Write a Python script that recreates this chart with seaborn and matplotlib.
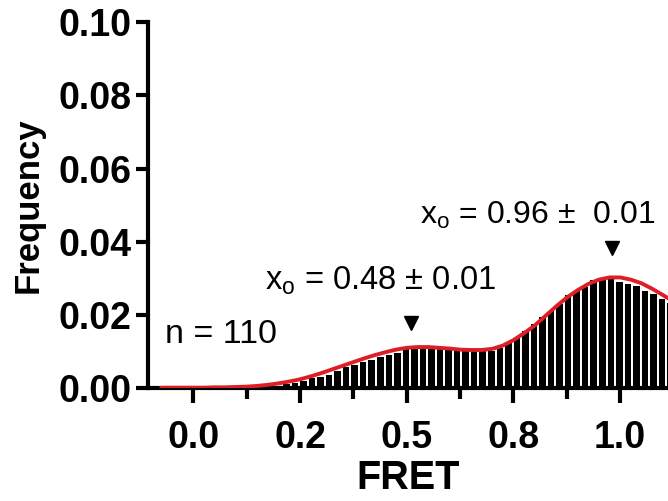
import numpy as np
import pandas as pd
import matplotlib
matplotlib.use("Agg")
import matplotlib.pyplot as plt
import seaborn as sns

# Histogram of FRET values (bin centres, 0.02 wide) and their frequencies
bin_centers = [0.138, 0.158, 0.178, 0.198, 0.218, 0.238, 0.258, 0.278, 0.298,
               0.318, 0.338, 0.358, 0.378, 0.398, 0.418, 0.438, 0.458, 0.478,
               0.498, 0.518, 0.538, 0.558, 0.578, 0.598, 0.618, 0.638, 0.658,
               0.678, 0.698, 0.718, 0.738, 0.758, 0.778, 0.798, 0.818, 0.838,
               0.858, 0.878, 0.898, 0.918, 0.938, 0.958, 0.978, 0.998, 1.018,
               1.038, 1.058, 1.078, 1.098, 1.118]
bin_freq = [0.0002, 0.0003, 0.0006, 0.0010, 0.0016, 0.0019, 0.0024, 0.0030, 0.0034,
            0.0040, 0.0050, 0.0060, 0.0066, 0.0074, 0.0080, 0.0088, 0.0095, 0.0100,
            0.0116, 0.0115, 0.0112, 0.0112, 0.0110, 0.0107, 0.0106, 0.0105, 0.0105,
            0.0104, 0.0106, 0.0114, 0.0128, 0.0140, 0.0160, 0.0180, 0.0199, 0.0214,
            0.0232, 0.0258, 0.0268, 0.0280, 0.0300, 0.0305, 0.0305, 0.0292, 0.0288,
            0.0282, 0.0270, 0.0260, 0.0247, 0.0235]

# Two-state Gaussian fit, sampled every 0.025
fit_x = [-0.075, -0.05, -0.025, 0.0, 0.025, 0.05, 0.075, 0.1, 0.125, 0.15, 0.175,
         0.2, 0.225, 0.25, 0.275, 0.3, 0.325, 0.35, 0.375, 0.4, 0.425, 0.45, 0.475,
         0.5, 0.525, 0.55, 0.575, 0.6, 0.625, 0.65, 0.675, 0.7, 0.725, 0.75, 0.775,
         0.8, 0.825, 0.85, 0.875, 0.9, 0.925, 0.95, 0.975, 1.0, 1.025, 1.05, 1.075,
         1.1, 1.125]
fit_y = [0.0002, 0.0002, 0.0002, 0.0002, 0.0002, 0.0003, 0.0003, 0.0004, 0.0005,
         0.0007, 0.0010, 0.0014, 0.0019, 0.0025, 0.0033, 0.0042, 0.0052, 0.0062,
         0.0072, 0.0082, 0.0091, 0.0099, 0.0106, 0.0111, 0.0113, 0.0113, 0.0111,
         0.0109, 0.0106, 0.0105, 0.0105, 0.0108, 0.0117, 0.0132, 0.0151, 0.0172,
         0.0198, 0.0224, 0.0248, 0.0268, 0.0285, 0.0297, 0.0303, 0.0303, 0.0297,
         0.0287, 0.0272, 0.0255, 0.0237]

# Fitted peak centres and their errors
peak_x0 = [0.48, 0.96]
peak_err = [0.01, 0.01]
arrow_x = [0.51, 0.98]
arrow_y = [0.0179, 0.0383]
n_molecules = 110

x_major = [0.0, 0.25, 0.5, 0.75, 1.0]
x_major_labels = ["0.0", "0.2", "0.5", "0.8", "1.0"]
x_minor = [0.125, 0.375, 0.625, 0.875]
y_ticks = [0.00, 0.02, 0.04, 0.06, 0.08, 0.10]
y_tick_labels = ["0.00", "0.02", "0.04", "0.06", "0.08", "0.10"]

sns.set_style("ticks")
plt.rcParams["font.family"] = ["Liberation Sans", "DejaVu Sans"]
plt.rcParams["mathtext.default"] = "regular"
for key in ["text.color", "axes.labelcolor", "xtick.color", "ytick.color",
            "axes.edgecolor"]:
    plt.rcParams[key] = "black"

fig = plt.figure(figsize=(6.68, 5.01), dpi=100)
ax = fig.add_axes([0.2216, 0.2246, 0.7784, 0.7315])

hist_df = pd.DataFrame({"FRET": bin_centers, "freq": bin_freq})
edges = [round(c - 0.01, 4) for c in bin_centers] + [round(bin_centers[-1] + 0.01, 4)]
sns.histplot(data=hist_df, x="FRET", weights="freq", bins=edges, stat="count",
             color="black", edgecolor="white", linewidth=1.4, alpha=1.0, ax=ax)

fit_df = pd.DataFrame({"FRET": fit_x, "fit": fit_y})
sns.lineplot(data=fit_df, x="FRET", y="fit", color="#dc1f26", linewidth=2.8,
             sort=False, ax=ax, zorder=3)

ax.plot(arrow_x, arrow_y, linestyle="none", marker="v", color="black",
        markersize=10, zorder=4)

ax.text(-0.066, 0.0124, f"n = {n_molecules}", fontsize=24.5, ha="left", va="baseline")
ax.text(0.168, 0.0271, f"x$_{{o}}$ = {peak_x0[0]:.2f} \u00b1 {peak_err[0]:.2f}",
        fontsize=23.5, ha="left", va="baseline")
ax.text(0.531, 0.0448, f"x$_{{o}}$ = {peak_x0[1]:.2f} \u00b1  {peak_err[1]:.2f}",
        fontsize=23, ha="left", va="baseline")

ax.set_xlim(-0.106, 1.112)
ax.set_ylim(0, 0.10)
ax.set_xticks(x_major)
ax.set_xticklabels(x_major_labels)
ax.set_xticks(x_minor, minor=True)
ax.set_yticks(y_ticks)
ax.set_yticklabels(y_tick_labels)

for side in ["top", "right"]:
    ax.spines[side].set_visible(False)
for side in ["left", "bottom"]:
    ax.spines[side].set_linewidth(3)
    ax.spines[side].set_color("black")
    ax.spines[side].set_zorder(2.5)

ax.tick_params(axis="x", which="major", direction="out", length=11, width=3,
               pad=12, labelsize=27, colors="black", bottom=True)
ax.tick_params(axis="x", which="minor", direction="out", length=8, width=3,
               colors="black", bottom=True)
ax.tick_params(axis="y", which="major", direction="out", length=9, width=3,
               pad=3, labelsize=27, colors="black", left=True)
for lab in ax.get_xticklabels() + ax.get_yticklabels():
    lab.set_fontweight("bold")

ax.set_xlabel("FRET", fontsize=28.5, fontweight="bold", labelpad=2)
ax.set_ylabel("Frequency", fontsize=25, fontweight="bold", labelpad=10)
ax.set_facecolor("white")
fig.patch.set_facecolor("white")

fig.savefig("out.png", dpi=100)
